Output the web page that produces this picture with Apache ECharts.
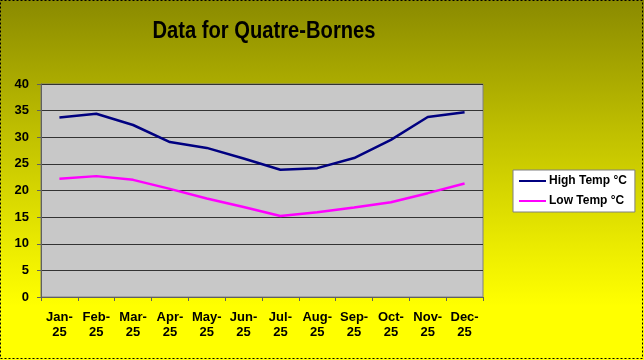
<!DOCTYPE html>
<html>
<head>
<meta charset="utf-8">
<script src="https://cdn.jsdelivr.net/npm/echarts@6/dist/echarts.min.js"></script>
<style>html,body{margin:0;padding:0;background:#fff}#c{width:644px;height:360px}</style>
</head>
<body>
<div id="c"></div>
<script>
const categories = ['Jan-25','Feb-25','Mar-25','Apr-25','May-25','Jun-25','Jul-25','Aug-25','Sep-25','Oct-25','Nov-25','Dec-25'];
const highTemp = [33.7, 34.4, 32.3, 29.1, 28.0, 26.0, 23.9, 24.2, 26.1, 29.5, 33.8, 34.7];
const lowTemp = [22.2, 22.7, 22.0, 20.3, 18.5, 16.9, 15.2, 15.9, 16.8, 17.8, 19.5, 21.3];
const seriesNames = ['High Temp °C', 'Low Temp °C'];
const titleText = 'Data for Quatre-Bornes';

const chart = echarts.init(document.getElementById('c'), null, {renderer: 'canvas'});
const font = '"Liberation Sans", Arial, sans-serif';
chart.setOption({
  animation: false,
  backgroundColor: {
    type: 'linear', x: 0, y: 0, x2: 0, y2: 1,
    colorStops: [
      {offset: 0, color: '#8a8a00'},
      {offset: 0.35, color: '#bdbd00'},
      {offset: 0.7, color: '#eded00'},
      {offset: 0.85, color: '#ffff00'},
      {offset: 1, color: '#ffff00'}
    ]
  },
  legend: {
    data: seriesNames,
    orient: 'vertical',
    left: 513, top: 170,
    width: 123,
    backgroundColor: '#ffffff',
    borderColor: '#808080', borderWidth: 1,
    padding: [5, 8, 5, 6],
    itemGap: 8,
    itemWidth: 27, itemHeight: 2,
    icon: 'rect',
    textStyle: {fontFamily: font, fontWeight: 'bold', fontSize: 12, color: '#000', padding: [0, 0, 0, -2]}
  },
  grid: {
    left: 41, right: 161, top: 84, bottom: 63,
    show: true, backgroundColor: '#c8c8c8', borderColor: '#808080', borderWidth: 1
  },
  xAxis: {
    type: 'category',
    data: categories,
    boundaryGap: true,
    axisLine: {lineStyle: {color: '#606060', width: 1}},
    axisTick: {show: true, lineStyle: {color: '#606060'}, length: 4},
    axisLabel: {
      fontFamily: font, fontWeight: 'bold', fontSize: 13, color: '#000',
      margin: 13, lineHeight: 15, interval: 0,
      formatter: v => v.replace('-', '-\n')
    }
  },
  yAxis: {
    type: 'value', min: 0, max: 40, interval: 5,
    axisLine: {show: true, lineStyle: {color: '#606060', width: 1}},
    axisTick: {show: true, length: 4, lineStyle: {color: '#606060'}},
    axisLabel: {fontFamily: font, fontWeight: 'bold', fontSize: 13, color: '#000', margin: 12},
    splitLine: {show: true, lineStyle: {color: '#333333', width: 1}}
  },
  series: [
    {name: seriesNames[0], type: 'line', data: highTemp, symbol: 'none', lineStyle: {color: '#000080', width: 2.5}, itemStyle: {color: '#000080'}},
    {name: seriesNames[1], type: 'line', data: lowTemp, symbol: 'none', lineStyle: {color: '#ff00ff', width: 2.5}, itemStyle: {color: '#ff00ff'}}
  ],
  graphic: [
    {
      type: 'text', silent: true, x: 264, y: 19, scaleX: 0.84,
      style: {text: titleText, fontFamily: font, fontWeight: 'bold', fontSize: 24, fill: '#000', align: 'center', verticalAlign: 'top'}
    },
    {
      type: 'rect', silent: true, z: 100,
      shape: {x: 0.5, y: 0.5, width: 642, height: 358},
      style: {fill: 'none', stroke: '#000', lineWidth: 1, lineDash: [2, 2]}
    }
  ]
});
</script>
</body>
</html>
